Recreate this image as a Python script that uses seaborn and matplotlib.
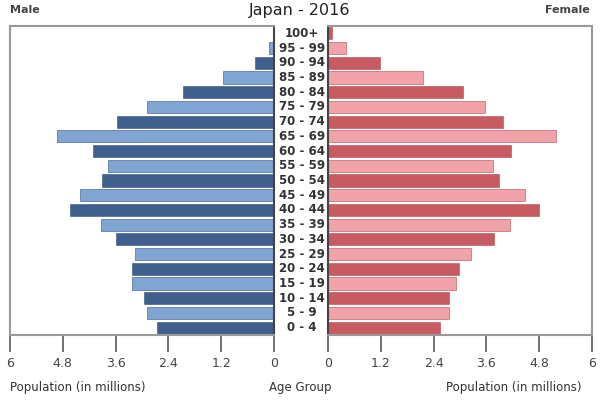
import matplotlib
matplotlib.use("Agg")
import matplotlib.pyplot as plt
import matplotlib.transforms as mtransforms
import seaborn as sns
import pandas as pd

sns.set_theme(style="white")
plt.rcParams['font.family'] = ['DejaVu Sans']

age_groups = ["100+", "95 - 99", "90 - 94", "85 - 89", "80 - 84", "75 - 79", "70 - 74",
              "65 - 69", "60 - 64", "55 - 59", "50 - 54", "45 - 49", "40 - 44", "35 - 39",
              "30 - 34", "25 - 29", "20 - 24", "15 - 19", "10 - 14", "5 - 9", "0 - 4"]
male = [0.02, 0.12, 0.43, 1.17, 2.06, 2.89, 3.56,
        4.94, 4.11, 3.77, 3.92, 4.41, 4.64, 3.94,
        3.60, 3.17, 3.22, 3.22, 2.95, 2.89, 2.67]
female = [0.10, 0.42, 1.18, 2.16, 3.06, 3.57, 3.98,
          5.19, 4.16, 3.76, 3.89, 4.48, 4.79, 4.14,
          3.78, 3.24, 2.97, 2.90, 2.75, 2.75, 2.55]
ticks = [0, 1.2, 2.4, 3.6, 4.8, 6]

male_cols = ["#3f5f8c" if i % 2 == 0 else "#80a5d3" for i in range(len(age_groups))]
female_cols = ["#c85a61" if i % 2 == 0 else "#f1a3a9" for i in range(len(age_groups))]

df = pd.DataFrame({"age": age_groups, "male": male, "female": female})

fig = plt.figure(figsize=(6, 4), dpi=100)
axL = fig.add_axes([10/600, 65/400, 264/600, 309/400])
axR = fig.add_axes([328/600, 65/400, 264/600, 309/400])

sns.barplot(data=df, x="male", y="age", hue="age", palette=male_cols, order=age_groups,
            hue_order=age_groups, legend=False, ax=axL, width=0.82, orient="h",
            saturation=1, edgecolor="#34507a", linewidth=0.4)
sns.barplot(data=df, x="female", y="age", hue="age", palette=female_cols, order=age_groups,
            hue_order=age_groups, legend=False, ax=axR, width=0.82, orient="h",
            saturation=1, edgecolor="#b04c53", linewidth=0.4)

for ax in (axL, axR):
    ax.set_xlim(0, 6)
    ax.set_ylim(len(age_groups) - 0.5, -0.5)
    ax.set_xticks(ticks)
    ax.set_xticklabels(["0" if t == 0 else ("6" if t == 6 else f"{t:.1f}") for t in ticks],
                       fontsize=9, color="#444444")
    ax.set_yticks([])
    ax.set_xlabel("")
    ax.set_ylabel("")
    ax.tick_params(axis="x", direction="out", length=12, width=1.3, color="#666666", pad=4,
                   bottom=True)
    for s in ax.spines.values():
        s.set_color("#999999")
        s.set_linewidth(1.5)
axL.invert_xaxis()
axL.spines["right"].set_color("#444444")
axR.spines["left"].set_color("#444444")

trans = mtransforms.blended_transform_factory(fig.transFigure, axL.transData)
for i, lab in enumerate(age_groups):
    axL.text(0.503, i, lab, transform=trans, ha="center", va="center", fontsize=8.5,
             color="#333333", fontweight="bold", clip_on=False)

fig.text(0.5, 0.975, "Japan - 2016", ha="center", va="center", fontsize=11.5, color="#222222")
fig.text(10/600, 0.975, "Male", ha="left", va="center", fontsize=8, color="#444444",
         fontweight="semibold")
fig.text(590/600, 0.975, "Female", ha="right", va="center", fontsize=8, color="#444444",
         fontweight="semibold")
fig.text(10/600, 1 - 388/400, "Population (in millions)", ha="left", va="center",
         fontsize=8.5, color="#333333")
fig.text(582/600, 1 - 388/400, "Population (in millions)", ha="right", va="center",
         fontsize=8.5, color="#333333")
fig.text(0.5, 1 - 388/400, "Age Group", ha="center", va="center", fontsize=8.5, color="#333333")

fig.savefig("out.png", dpi=100, facecolor="white")
